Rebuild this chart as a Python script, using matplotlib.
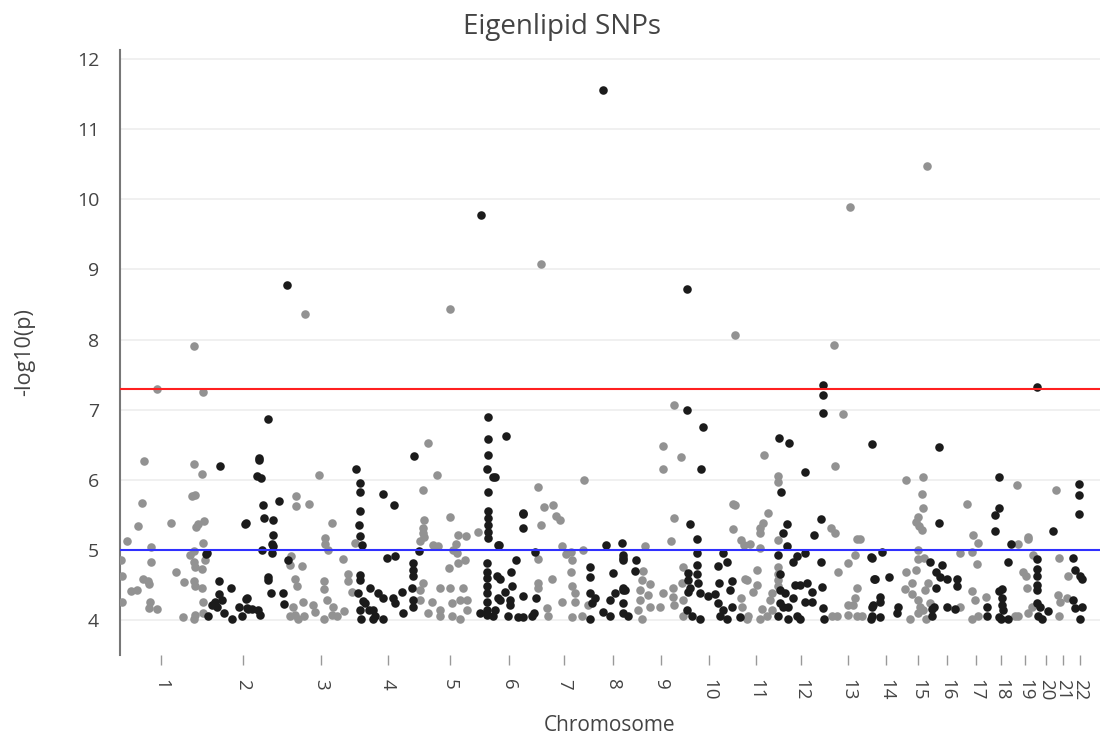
import matplotlib
matplotlib.use("Agg")
import matplotlib.pyplot as plt

# Cumulative genomic position (arbitrary units) and -log10(p) values
odd_pos = [157,203,194,144,194,202,192,195,142,138,171,196,198,204,127,151,203,194,190,121,151,194,195,202,205,176,122,143,148,149,184,194,195,202,131,137,122,150,149,157,203,183,195,194,203,
           319,296,296,309,332,325,325,328,355,291,290,302,343,295,297,324,324,327,348,348,352,303,313,315,293,295,290,298,304,324,333,332,337,344,305,
           428,437,423,450,424,423,423,424,420,433,438,458,466,478,456,453,457,465,458,449,423,420,420,440,450,463,432,440,452,460,467,428,440,452,460,467,450,
           538,584,544,553,556,560,541,562,566,571,572,583,538,571,552,538,538,572,575,562,575,588,547,548,572,582,541,
           674,663,681,663,674,671,645,643,642,640,640,638,642,650,648,650,683,682,673,663,673,683,660,674,683,
           735,733,735,733,741,744,741,742,747,745,764,778,778,768,763,760,760,750,778,760,757,747,757,753,778,778,778,778,772,770,772,762,760,748,767,
           850,834,843,835,831,835,857,860,855,848,838,832,837,848,857,862,857,855,848,853,
           927,906,923,922,923,918,916,919,922,918,918,924,906,916,912,905,912,928,925,918,920,918,923,930,910,926,
           967,973,978,960,972,977,972,975,986,960,972,978,
           1017,1028,1028,1018,1023,1026,1027,1015,1018,1028,1032,1033,
           1056,1059,1068,1058,1060,1067,1059]
odd_logp = [7.30,7.25,7.91,6.27,6.22,6.08,5.77,5.78,5.67,5.34,5.39,5.33,5.37,5.41,5.13,5.04,5.10,4.98,4.92,4.85,4.83,4.82,4.76,4.73,4.86,4.68,4.63,4.58,4.56,4.51,4.54,4.55,4.49,4.45,4.41,4.43,4.26,4.25,4.17,4.16,4.25,4.04,4.07,4.02,4.10,
            6.07,5.77,5.63,5.65,5.38,5.17,5.09,5.00,5.10,4.91,4.78,4.77,4.87,4.59,4.48,4.56,4.44,4.29,4.65,4.55,4.40,4.26,4.21,4.12,4.19,4.07,4.05,4.02,4.05,4.01,4.18,4.07,4.05,4.13,8.37,
            6.53,6.07,5.85,5.47,5.43,5.31,5.24,5.19,5.12,5.07,5.06,5.21,5.20,5.26,5.09,5.00,4.96,4.86,4.81,4.74,4.52,4.43,4.29,4.45,4.45,4.45,4.26,4.14,4.24,4.29,4.29,4.10,4.05,4.05,4.02,4.14,8.44,
            5.90,6.00,5.61,5.64,5.48,5.42,5.35,5.06,4.94,4.97,4.86,5.00,4.87,4.69,4.59,4.53,4.45,4.48,4.39,4.25,4.25,4.21,4.17,4.06,4.04,4.06,9.08,
            7.07,6.48,6.32,6.16,5.46,5.12,5.06,4.70,4.57,4.43,4.29,4.14,4.02,4.51,4.36,4.18,4.76,4.53,4.45,4.39,4.33,4.29,4.19,4.21,4.05,
            8.07,5.65,5.64,5.30,5.14,5.07,4.32,4.18,4.02,4.58,6.35,6.06,5.97,5.52,5.38,5.31,5.24,5.09,5.14,5.02,4.71,4.57,4.50,4.40,4.76,4.66,4.57,4.48,4.39,4.29,4.14,4.15,4.02,4.05,4.05,
            9.89,7.92,6.94,6.20,5.31,5.24,5.15,5.16,4.93,4.81,4.69,4.06,4.06,4.07,4.06,4.05,4.45,4.31,4.21,4.21,
            10.48,6.00,6.04,5.80,5.60,5.47,5.40,5.34,5.29,5.00,4.87,4.88,4.69,4.71,4.52,4.44,4.37,4.52,4.43,4.29,4.19,4.10,4.14,4.24,4.01,4.01,
            5.65,5.21,5.10,4.96,4.97,4.80,4.42,4.29,4.33,4.18,4.02,4.05,
            5.92,5.19,5.15,5.09,4.68,4.62,4.45,4.05,4.05,4.10,4.19,4.93,
            5.86,4.89,4.62,4.36,4.26,4.31,4.05]

even_pos = [220,245,206,207,219,231,219,215,212,217,222,224,208,232,242,239,246,248,268,259,259,257,261,263,279,246,264,273,273,272,273,272,262,288,268,268,271,283,284,247,247,252,258,260,287,
            356,360,360,360,359,360,362,360,360,358,363,365,360,361,369,373,414,383,394,419,387,395,413,413,413,412,413,413,370,378,383,393,402,395,403,373,375,383,
            481,488,488,488,487,493,488,488,488,488,488,488,498,487,487,487,487,487,487,487,487,497,498,480,493,506,495,523,523,523,499,535,516,511,500,505,512,523,500,510,510,536,495,508,518,523,532,534,
            603,606,622,623,590,590,613,590,595,592,610,615,623,603,610,590,623,623,636,635,623,625,623,623,628,
            687,687,703,701,690,697,697,723,727,697,688,697,688,698,690,700,688,687,692,700,718,719,708,715,718,723,720,732,730,732,727,740,
            823,823,823,779,789,805,781,787,783,821,814,787,778,797,805,793,821,780,780,785,795,800,807,812,822,805,812,793,780,783,788,778,788,797,800,823,824,
            872,871,874,873,871,882,872,875,889,880,880,872,872,880,898,897,
            939,939,930,942,936,940,947,957,957,936,932,934,932,947,955,
            999,995,999,995,999,987,987,999,1011,1008,1002,1002,1002,1003,1001,1008,
            1037,1053,1037,1037,1037,1037,1037,1037,1040,1038,1042,1048,
            1079,1079,1079,1073,1075,1080,1082,1073,1075,1082,1080]
even_logp = [6.19,5.37,4.94,4.96,4.56,4.45,4.37,4.26,4.21,4.19,4.29,4.10,4.05,4.02,4.06,4.19,4.30,4.15,6.87,6.31,6.28,6.05,6.03,5.64,5.70,5.38,5.46,5.43,5.21,5.09,5.05,4.95,5.00,4.85,4.61,4.57,4.39,4.39,4.23,4.31,4.17,4.15,4.14,4.07,8.78,
             6.16,5.96,5.82,5.55,5.36,5.20,5.07,4.64,4.57,4.39,4.27,4.24,4.14,4.02,4.14,4.02,6.34,5.79,5.64,4.98,4.89,4.91,4.81,4.71,4.62,4.45,4.29,4.19,4.45,4.38,4.31,4.31,4.40,4.24,4.10,4.14,4.05,4.01,
             9.78,6.89,6.58,6.36,6.16,6.04,5.82,5.55,5.45,5.36,5.26,5.17,5.07,4.81,4.69,4.60,4.48,4.38,4.26,4.14,4.07,4.62,4.31,4.10,4.05,6.62,6.04,5.53,5.51,5.31,5.07,4.97,4.86,4.69,4.59,4.40,4.48,4.34,4.29,4.29,4.21,4.31,4.14,4.06,4.04,4.04,4.05,4.10,
             11.56,5.07,5.10,4.88,4.75,4.61,4.67,4.39,4.31,4.24,4.29,4.39,4.43,4.12,4.06,4.02,4.93,4.85,4.85,4.70,4.45,4.43,4.24,4.10,4.06,
             8.72,7.00,6.75,6.15,5.37,5.15,4.95,4.96,4.83,4.79,4.67,4.66,4.57,4.52,4.45,4.39,4.40,4.14,4.06,4.02,4.77,4.52,4.34,4.37,4.24,4.14,4.05,4.55,4.43,4.19,4.02,4.04,
             7.35,7.21,6.95,6.60,6.52,6.11,5.82,5.37,5.24,5.44,5.21,5.05,4.93,4.91,4.96,4.83,4.83,4.66,4.43,4.38,4.50,4.50,4.52,4.40,4.47,4.26,4.26,4.32,4.24,4.18,4.19,4.05,4.02,4.06,4.02,4.17,4.02,
             6.51,4.90,4.58,4.21,4.02,4.97,4.89,4.58,4.61,4.33,4.25,4.19,4.05,4.04,4.19,4.10,
             6.46,5.39,4.82,4.78,4.68,4.61,4.59,4.59,4.48,4.45,4.15,4.18,4.06,4.19,4.15,
             6.04,5.49,5.59,5.27,4.42,4.18,4.05,4.04,5.09,4.82,4.44,4.31,4.21,4.14,4.02,4.02,
             7.33,5.27,4.87,4.72,4.62,4.50,4.43,4.24,4.18,4.06,4.02,4.13,
             5.94,5.78,5.51,4.88,4.71,4.62,4.59,4.29,4.17,4.19,4.01]

chrom_labels = [str(i) for i in range(1, 23)]
chrom_centers = [161,243,321,388,450,509,564,613,661,709,756,801,848,886,918,947,976,1001,1025,1046,1063,1080]

genomewide_line = 7.3
suggestive_line = 5.0

plt.rcParams['font.family'] = ['Open Sans', 'DejaVu Sans']

fig = plt.figure(figsize=(11.11, 7.40), dpi=100)
ax = fig.add_axes([120/1111, 85/740, 980/1111, 605/740])

ax.scatter(odd_pos, odd_logp, s=38, color='#929292', linewidths=0, zorder=3)
ax.scatter(even_pos, even_logp, s=38, color='#1b1b1b', linewidths=0, zorder=3)

ax.axhline(genomewide_line, color='#ff2020', lw=1.5, zorder=4)
ax.axhline(suggestive_line, color='#3030ff', lw=1.5, zorder=4)

ax.set_xlim(120, 1100)
ax.set_ylim(3.5, 12.13)
ax.set_yticks(range(4, 13))
ax.yaxis.grid(True, color='#eeeeee', lw=1.2, zorder=0)
ax.set_axisbelow(True)

for s in ['top', 'right', 'bottom']:
    ax.spines[s].set_visible(False)
ax.spines['left'].set_color('#777777')
ax.spines['left'].set_linewidth(1.5)

ax.tick_params(axis='y', length=0, pad=15, labelsize=14, labelcolor='#444444')
ax.set_xticks(chrom_centers)
ax.set_xticklabels(chrom_labels, rotation=-90, fontsize=13.5, color='#444444')
ax.tick_params(axis='x', length=7, width=1, color='#999999', pad=10)

ax.set_xlabel('Chromosome', fontsize=15, color='#444444', labelpad=11)
ax.set_ylabel('-log10(p)', fontsize=15.5, color='#444444', labelpad=30)
fig.text(562/1111, 1 - 27/740, 'Eigenlipid SNPs', ha='center', va='center', fontsize=20, color='#444444')

fig.savefig('out.png', dpi=100, facecolor='white')
